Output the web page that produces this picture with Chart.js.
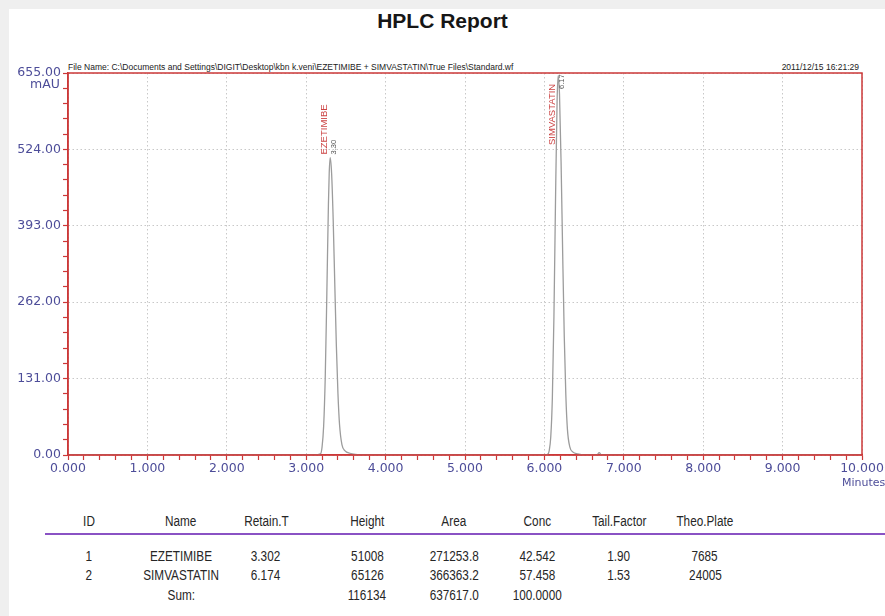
<!DOCTYPE html>
<html>
<head>
<meta charset="utf-8">
<title>HPLC Report</title>
<script src="https://cdn.jsdelivr.net/npm/chart.js@4.4.1/dist/chart.umd.min.js"></script>
<style>
  html, body { margin: 0; padding: 0; }
  body {
    width: 885px; height: 616px; position: relative; overflow: hidden;
    background: #efefef; font-family: "Liberation Sans", Arial, sans-serif;
  }
  #sheet { position: absolute; left: 9px; top: 9px; right: 0; bottom: 0; background: #fff; }
  #title {
    position: absolute; left: 0; width: 885px; top: 9px; text-align: center;
    font-weight: bold; font-size: 21px; color: #161616;
  }
  .hdr { position: absolute; top: 62px; font-size: 8.5px; line-height: 10px; color: #222; white-space: nowrap; }
  #fileName { left: 68px; }
  #stamp { right: 26px; }
  #plotBox { position: absolute; left: 0; top: 40px; width: 885px; height: 460px; }
  #rule { position: absolute; left: 45px; right: 0; top: 533px; height: 2px; background: #8a52c4; }
  .cell {
    position: absolute; width: 120px; text-align: center; white-space: nowrap;
    font-size: 14px; line-height: 16px; color: #262626;
  }
  .cell span { display: inline-block; transform: scaleX(0.84); transform-origin: 50% 50%; }
</style>
</head>
<body>
<div id="sheet"></div>
<div id="title">HPLC Report</div>
<div class="hdr" id="fileName">File Name: C:\Documents and Settings\DIGIT\Desktop\kbn k.veni\EZETIMIBE + SIMVASTATIN\True Files\Standard.wf</div>
<div class="hdr" id="stamp">2011/12/15 16:21:29</div>
<div id="plotBox"><canvas id="hplc" width="885" height="460"></canvas></div>
<div id="rule"></div>
<div id="table"></div>

<script>
// 層析圖的數據（分鐘, mAU）
const traceTimes = [
  0.00, 3.10, 3.18, 3.20, 3.22, 3.24, 3.26, 3.28, 3.29, 3.302, 3.32, 3.34, 3.36, 3.38,
  3.40, 3.42, 3.45, 3.49, 3.55, 3.62, 3.72,
  6.00, 6.04, 6.06, 6.08, 6.10, 6.12, 6.14, 6.16, 6.174, 6.19, 6.21, 6.23, 6.25, 6.27,
  6.29, 6.32, 6.36, 6.42, 6.50, 6.66, 6.69, 6.72, 10.00
];
const traceAbs = [
  0, 0, 2, 14, 50, 134, 277, 431, 484, 510, 483, 403, 293, 187,
  105, 52, 18, 7, 3, 1, 0,
  0, 1, 7, 31, 97, 237, 437, 608, 651, 619, 503, 347, 204, 103,
  44, 14, 5, 2, 0, 0, 4, 0, 0
];

// 峰表
const tableHeaders = ['ID', 'Name', 'Retain.T', 'Height', 'Area', 'Conc', 'Tail.Factor', 'Theo.Plate'];
const peakIds = [1, 2];
const peakNames = ['EZETIMIBE', 'SIMVASTATIN'];
const retainTimes = [3.302, 6.174];
const peakHeights = [51008, 65126];
const peakAreas = [271253.8, 366363.2];
const peakConc = [42.542, 57.458];
const tailFactors = [1.90, 1.53];
const theoPlates = [7685, 24005];
const sumRow = ['', 'Sum:', '', '116134', '637617.0', '100.0000', '', ''];

// 坐標軸
const yMax = 655;
const yMajorStep = 131;
const yMinorStep = 26.2;
const xMax = 10;
const xMinorStep = 0.2;

const RED = '#cc3838';
const TICK_BLUE = '#4d4d99';
const GRID = '#c8c8c8';
const TICK_FONT = '"DejaVu Sans", Verdana, sans-serif';

const isWhole = (v, step) => Math.abs(v / step - Math.round(v / step)) < 1e-4;

// 邊框、單位與峰標籤
const decorPlugin = {
  id: 'hplcDecor',
  afterDraw(chart) {
    const { ctx, chartArea: a, scales: { x, y } } = chart;
    ctx.save();
    ctx.strokeStyle = RED;
    ctx.lineWidth = 1.5;
    ctx.strokeRect(a.left, a.top, a.right - a.left, a.bottom - a.top);

    ctx.fillStyle = TICK_BLUE;
    ctx.font = '12.5px ' + TICK_FONT;
    ctx.textBaseline = 'middle';
    ctx.textAlign = 'right';
    ctx.fillText('mAU', a.left - 8, y.getPixelForValue(yMax) + 12);
    ctx.textAlign = 'left';
    ctx.font = '11px ' + TICK_FONT;
    ctx.fillText('Minutes', x.getPixelForValue(xMax) - 20, a.bottom + 28);

    peakNames.forEach((name, i) => {
      const px = x.getPixelForValue(retainTimes[i]);
      const py = y.getPixelForValue(peakHeights[i] / 100);
      const nameBottom = Math.max(py - 3, a.top + 72);
      const numBottom = Math.max(py - 3, a.top + 16);

      ctx.save();
      ctx.translate(px - 6, nameBottom);
      ctx.rotate(-Math.PI / 2);
      ctx.textAlign = 'left';
      ctx.textBaseline = 'middle';
      ctx.fillStyle = '#cc4444';
      ctx.font = '9.5px "Liberation Sans", Arial, sans-serif';
      ctx.fillText(name, 0, 0);
      ctx.restore();

      ctx.save();
      ctx.translate(px + 3.5, numBottom);
      ctx.rotate(-Math.PI / 2);
      ctx.textAlign = 'left';
      ctx.textBaseline = 'middle';
      ctx.fillStyle = '#555';
      ctx.font = '7.5px "Liberation Sans", Arial, sans-serif';
      ctx.fillText(retainTimes[i].toFixed(2), 0, 0);
      ctx.restore();
    });
    ctx.restore();
  }
};

Chart.defaults.font.family = '"Liberation Sans", Arial, sans-serif';
Chart.defaults.animation = false;

new Chart(document.getElementById('hplc'), {
  type: 'line',
  data: {
    datasets: [{
      data: traceTimes.map((t, i) => ({ x: t, y: traceAbs[i] })),
      borderColor: '#9c9c9c',
      borderWidth: 1.3,
      pointRadius: 0,
      cubicInterpolationMode: 'monotone',
      fill: false
    }]
  },
  options: {
    responsive: false,
    maintainAspectRatio: false,
    layout: { padding: { top: 33, right: 23, left: 0, bottom: 0 } },
    plugins: { legend: { display: false }, tooltip: { enabled: false } },
    scales: {
      x: {
        type: 'linear',
        min: 0,
        max: xMax,
        afterFit: (s) => { s.height = 45; },
        ticks: {
          stepSize: xMinorStep,
          autoSkip: false,
          maxRotation: 0,
          padding: 1,
          color: TICK_BLUE,
          font: { family: TICK_FONT, size: 12.5 },
          callback: (v) => isWhole(v, 1) ? Number(v).toFixed(3) : ''
        },
        grid: {
          color: (c) => isWhole(c.tick.value, 1) ? GRID : 'rgba(0,0,0,0)',
          tickColor: RED,
          tickLength: 5,
          tickWidth: 1.2,
          lineWidth: 1
        },
        border: { color: RED, width: 1.5, dash: [1.5, 2.5] }
      },
      y: {
        min: 0,
        max: yMax,
        afterFit: (s) => { s.width = 68; },
        ticks: {
          stepSize: yMinorStep,
          autoSkip: false,
          padding: 2,
          color: TICK_BLUE,
          font: { family: TICK_FONT, size: 12.5 },
          callback: (v) => isWhole(v, yMajorStep) ? (Math.round(v / yMajorStep) * yMajorStep).toFixed(2) : ''
        },
        grid: {
          color: (c) => isWhole(c.tick.value, yMajorStep) ? GRID : 'rgba(0,0,0,0)',
          tickColor: RED,
          tickLength: 5,
          tickWidth: 1.2,
          lineWidth: 1
        },
        border: { color: RED, width: 1.5, dash: [1.5, 2.5] }
      }
    }
  },
  plugins: [decorPlugin]
});

// 峰表的排版
const colCenters = [89, 181, 266, 367, 454, 537, 619, 705];
const rowTops = [513, 548, 567, 587];
const rows = [
  tableHeaders,
  ...peakIds.map((id, i) => [
    String(id), peakNames[i], retainTimes[i].toFixed(3), String(peakHeights[i]),
    peakAreas[i].toFixed(1), peakConc[i].toFixed(3), tailFactors[i].toFixed(2), String(theoPlates[i])
  ]),
  sumRow
];
const table = document.getElementById('table');
rows.forEach((row, r) => {
  row.forEach((text, c) => {
    if (!text) return;
    const div = document.createElement('div');
    div.className = 'cell';
    div.style.left = (colCenters[c] - 60) + 'px';
    div.style.top = rowTops[r] + 'px';
    const span = document.createElement('span');
    span.textContent = text;
    div.appendChild(span);
    table.appendChild(div);
  });
});
</script>
</body>
</html>
